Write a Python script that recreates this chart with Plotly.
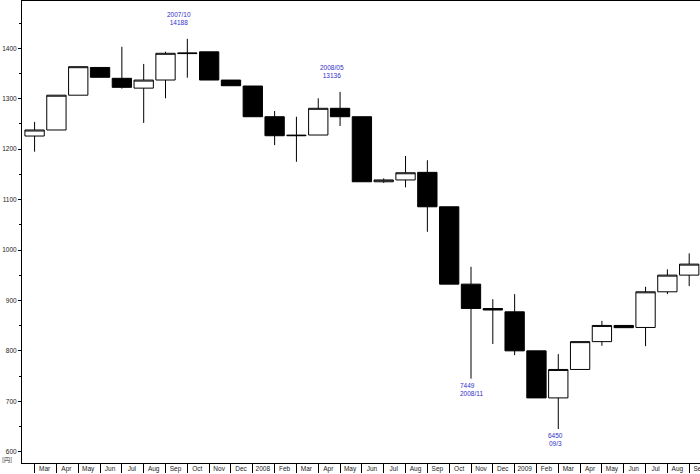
import plotly.graph_objects as go

months = ["2007-03", "2007-04", "2007-05", "2007-06", "2007-07", "2007-08", "2007-09",
          "2007-10", "2007-11", "2007-12", "2008-01", "2008-02", "2008-03", "2008-04",
          "2008-05", "2008-06", "2008-07", "2008-08", "2008-09", "2008-10", "2008-11",
          "2008-12", "2009-01", "2009-02", "2009-03", "2009-04", "2009-05", "2009-06",
          "2009-07", "2009-08", "2009-09"]
month_labels = ["Mar", "Apr", "May", "Jun", "Jul", "Aug", "Sep", "Oct", "Nov", "Dec",
                "2008", "Feb", "Mar", "Apr", "May", "Jun", "Jul", "Aug", "Sep", "Oct",
                "Nov", "Dec", "2009", "Feb", "Mar", "Apr", "May", "Jun", "Jul", "Aug", "Sep"]

open_ = [12260, 12380, 13070, 13620, 13405, 13210, 13371, 13895, 13930, 13370, 13252,
         12643, 12266, 12280, 12810, 12643, 11353, 11389, 11540, 10857, 9323, 8840,
         8774, 8000, 7067, 7631, 8183, 8504, 8464, 9171, 9502]
high = [12540, 13070, 13635, 13620, 14030, 13690, 13933, 14188, 13930, 13370, 13252,
        12756, 12643, 13008, 13136, 12643, 11420, 11863, 11780, 10857, 9667, 9025,
        9125, 8000, 7935, 8183, 8595, 8504, 9270, 9615, 9933]
low = [11950, 12380, 13070, 13425, 13200, 12520, 13008, 13417, 13371, 13258, 12643,
       12080, 11750, 12280, 12458, 11353, 11330, 11242, 10361, 9323, 7449, 8135,
       7915, 7067, 6450, 7631, 8101, 8460, 8093, 9125, 9284]
close = [12380, 13070, 13635, 13425, 13226, 13370, 13901, 13905, 13371, 13258, 12643,
         12266, 12275, 12810, 12643, 11353, 11389, 11532, 10857, 9323, 8841, 8810,
         8000, 7067, 7631, 8183, 8504, 8460, 9171, 9502, 9720]

y_tickvals = [6000, 7000, 8000, 9000, 10000, 11000, 12000, 13000, 14000]
y_ticktext = ["600", "700", "800", "900", "1000", "1100", "1200", "1300", "1400"]

# (month index, price, text)
notes_high = [(7, 14188, "2007/10<br>14188"), (14, 13136, "2008/05<br>13136")]
notes_low = [(20, 7449, "7449<br>2008/11"), (24, 6450, "6450<br>09/3")]

idx = list(range(len(months)))

fig = go.Figure(go.Candlestick(
    x=idx, open=open_, high=high, low=low, close=close,
    increasing=dict(line=dict(color="black", width=1), fillcolor="white"),
    decreasing=dict(line=dict(color="black", width=1), fillcolor="black"),
    whiskerwidth=0, showlegend=False, hoverinfo="skip",
))

font_family = "Liberation Sans, Arial, sans-serif"
blue = "#3030c8"

ann = []
for i, p, t in notes_high:
    ann.append(dict(x=idx[i], y=p, xref="x", yref="y", text=t, showarrow=False,
                    xanchor="center", yanchor="middle", xshift=-8, yshift=20,
                    font=dict(family=font_family, size=6.5, color=blue)))
ann.append(dict(x=idx[notes_low[0][0]], y=notes_low[0][1], xref="x", yref="y",
                text=notes_low[0][2], showarrow=False, align="left",
                xanchor="left", yanchor="middle", xshift=-13, yshift=-11,
                font=dict(family=font_family, size=6.5, color=blue)))
ann.append(dict(x=idx[notes_low[1][0]], y=notes_low[1][1], xref="x", yref="y",
                text=notes_low[1][2], showarrow=False,
                xanchor="center", yanchor="middle", xshift=-2.5, yshift=-10,
                font=dict(family=font_family, size=6.5, color=blue)))
ann.append(dict(x=-15 / 678, y=(463 - 459) / 462, xref="paper", yref="paper",
                yanchor="middle", xanchor="center", text="[円]", showarrow=False,
                font=dict(family="Noto Sans CJK JP, sans-serif", size=6, color="#222")))

fig.update_layout(
    template="none",
    width=700, height=474,
    margin=dict(l=22, r=0, t=1, b=11, pad=0),
    paper_bgcolor="white", plot_bgcolor="white",
    boxgap=0.115, boxgroupgap=0,
    annotations=ann,
    font=dict(family=font_family, size=6.5, color="#222"),
)
fig.update_xaxes(
    range=[-0.577, 30.495], showgrid=False, zeroline=False,
    rangeslider=dict(visible=False),
    tickmode="array", tickvals=idx, ticktext=month_labels,
    ticks="outside", ticklen=9, tickcolor="black", tickwidth=1,
    ticklabelstandoff=-10, ticklabelshift=10, ticklabeloverflow="allow",
    showline=True, linecolor="black", linewidth=1, mirror=True,
    tickfont=dict(family=font_family, size=6.5, color="#222"),
    automargin=False,
)
fig.update_yaxes(
    range=[5776, 14938], showgrid=False, zeroline=False,
    tickmode="array", tickvals=y_tickvals, ticktext=y_ticktext,
    ticks="outside", ticklen=3, tickcolor="black", tickwidth=1,
    minor=dict(tickmode="linear", tick0=500, dtick=1000, ticks="outside",
               ticklen=2, tickcolor="black"),
    showline=True, linecolor="black", linewidth=1,
    tickfont=dict(family=font_family, size=6.5, color="#222"),
    automargin=False,
)

fig.write_html("out.html", config={"displayModeBar": False},
               post_script="document.body.style.margin='0';document.body.style.overflow='hidden';")
